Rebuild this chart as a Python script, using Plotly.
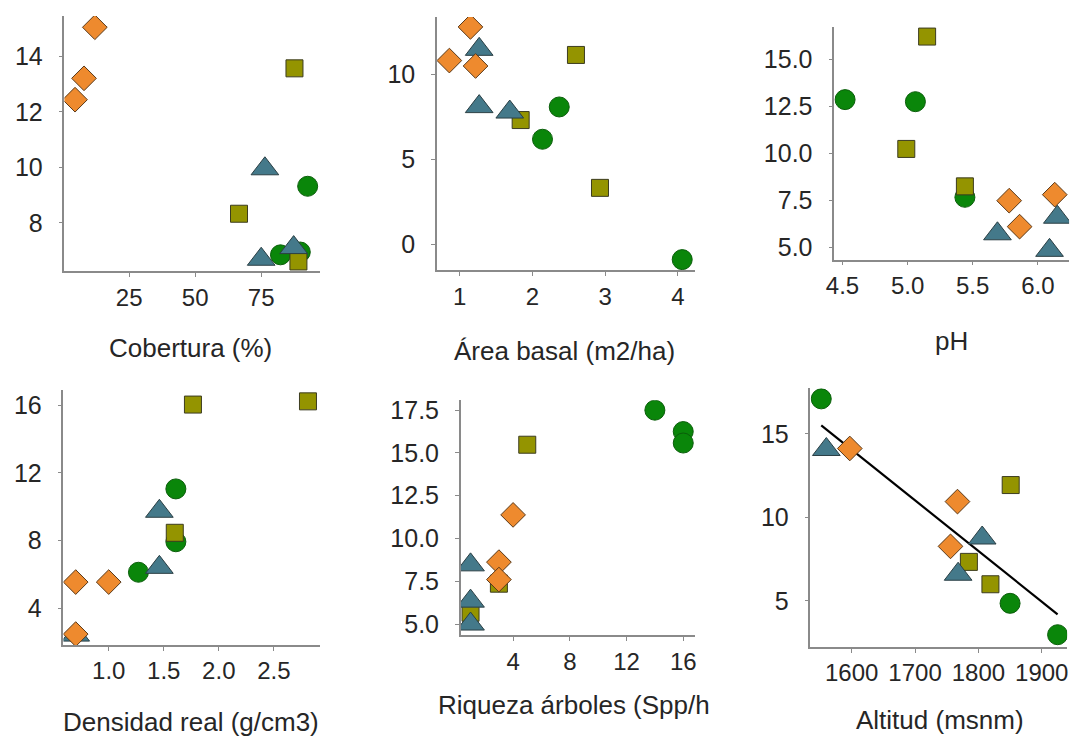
import numpy as np
import plotly.graph_objects as go

# ---------------- data ----------------
# group order: circle (green), square (olive), triangle (teal), diamond (orange)
# Panel 1: Cobertura (%)
p1_circle_x = [92.6, 82.3, 89.8];  p1_circle_y = [9.32, 6.85, 6.95]
p1_square_x = [87.6, 66.6, 89.1];  p1_square_y = [13.57, 8.33, 6.61]
p1_tri_x = [76.4, 75.0, 87.3];     p1_tri_y = [9.95, 6.69, 7.11]
p1_diam_x = [12.0, 7.9, 4.5];      p1_diam_y = [15.05, 13.21, 12.44]

# Panel 2: Área basal (m2/ha)
p2_circle_x = [2.37, 2.14, 4.06];  p2_circle_y = [8.07, 6.17, -0.91]
p2_square_x = [2.60, 1.84, 2.93];  p2_square_y = [11.13, 7.30, 3.31]
p2_tri_x = [1.27, 1.27, 1.69];     p2_tri_y = [11.46, 8.09, 7.77]
p2_diam_x = [1.15, 0.86, 1.22];    p2_diam_y = [12.78, 10.80, 10.48]

# Panel 3: pH
p3_circle_x = [4.52, 5.06, 5.44];  p3_circle_y = [12.85, 12.74, 7.66]
p3_square_x = [5.15, 4.99, 5.44];  p3_square_y = [16.20, 10.23, 8.24]
p3_tri_x = [5.69, 6.09, 6.15];     p3_tri_y = [5.72, 4.84, 6.60]
p3_diam_x = [5.78, 6.13, 5.86];    p3_diam_y = [7.48, 7.80, 6.10]

# Panel 4: Densidad real (g/cm3)
p4_circle_x = [1.61, 1.61, 1.27];  p4_circle_y = [11.06, 7.94, 6.14]
p4_square_x = [1.765, 2.81, 1.60]; p4_square_y = [16.04, 16.23, 8.47]
p4_tri_x = [1.46, 1.46, 0.70];     p4_tri_y = [9.74, 6.43, 2.43]
p4_diam_x = [0.70, 1.00, 0.70];    p4_diam_y = [5.56, 5.56, 2.49]

# Panel 5: Riqueza árboles (Spp/ha)
p5_circle_x = [14, 16, 16];        p5_circle_y = [17.50, 16.25, 15.58]
p5_square_x = [5, 3, 1];           p5_square_y = [15.48, 7.36, 5.66]
p5_tri_x = [1, 1, 1];              p5_tri_y = [8.46, 6.34, 5.00]
p5_diam_x = [4, 3, 3];             p5_diam_y = [11.38, 8.62, 7.60]

# Panel 6: Altitud (msnm)
p6_circle_x = [1552, 1850, 1925];  p6_circle_y = [17.10, 4.86, 2.98]
p6_square_x = [1851, 1785, 1819];  p6_square_y = [11.94, 7.34, 6.00]
p6_tri_x = [1560, 1768, 1806];     p6_tri_y = [14.07, 6.60, 8.77]
p6_diam_x = [1597, 1767, 1756];    p6_diam_y = [14.13, 10.95, 8.27]

axis_titles = ["Cobertura (%)", "Área basal (m2/ha)", "pH",
               "Densidad real (g/cm3)", "Riqueza árboles (Spp/h", "Altitud (msnm)"]

x_tickvals = [[25, 50, 75], [1, 2, 3, 4], [4.5, 5.0, 5.5, 6.0],
              [1.0, 1.5, 2.0, 2.5], [4, 8, 12, 16], [1600, 1700, 1800, 1900]]
x_ticktext = [["25", "50", "75"], ["1", "2", "3", "4"], ["4.5", "5.0", "5.5", "6.0"],
              ["1.0", "1.5", "2.0", "2.5"], ["4", "8", "12", "16"],
              ["1600", "1700", "1800", "1900"]]
y_tickvals = [[8, 10, 12, 14], [0, 5, 10], [5.0, 7.5, 10.0, 12.5, 15.0],
              [4, 8, 12, 16], [5.0, 7.5, 10.0, 12.5, 15.0, 17.5], [5, 10, 15]]
y_ticktext = [["8", "10", "12", "14"], ["0", "5", "10"],
              ["5.0", "7.5", "10.0", "12.5", "15.0"], ["4", "8", "12", "16"],
              ["5.0", "7.5", "10.0", "12.5", "15.0", "17.5"], ["5", "10", "15"]]

panels = [
    (p1_circle_x, p1_circle_y, p1_square_x, p1_square_y, p1_tri_x, p1_tri_y, p1_diam_x, p1_diam_y),
    (p2_circle_x, p2_circle_y, p2_square_x, p2_square_y, p2_tri_x, p2_tri_y, p2_diam_x, p2_diam_y),
    (p3_circle_x, p3_circle_y, p3_square_x, p3_square_y, p3_tri_x, p3_tri_y, p3_diam_x, p3_diam_y),
    (p4_circle_x, p4_circle_y, p4_square_x, p4_square_y, p4_tri_x, p4_tri_y, p4_diam_x, p4_diam_y),
    (p5_circle_x, p5_circle_y, p5_square_x, p5_square_y, p5_tri_x, p5_tri_y, p5_diam_x, p5_diam_y),
    (p6_circle_x, p6_circle_y, p6_square_x, p6_square_y, p6_tri_x, p6_tri_y, p6_diam_x, p6_diam_y),
]

# ---------------- layout / style ----------------
W, H = 1079, 745
# plot areas in pixels (left, right, top, bottom)
boxes = [(57, 315, 12, 270), (433, 693, 13, 269), (834, 1071, 23, 258),
         (56, 315, 390, 647), (457, 693, 400, 637), (810, 1069, 388, 649)]
x_ranges = [[0.5, 97.3], [0.69, 4.23], [4.437, 6.24], [0.589, 2.92], [0.31, 16.8], [1535, 1940]]
y_ranges = [[6.25, 15.46], [-1.55, 13.37], [4.35, 16.72], [1.85, 16.88], [4.36, 18.08], [2.25, 17.73]]
title_px = [(184.5, 347), (561.5, 350), (952, 340), (185, 725), (571.5, 708), (940.5, 723)]

FONT = "Liberation Sans, Arial, Helvetica, sans-serif"
TXT = "#262626"
AX = "#8a8a8a"

styles = [
    dict(symbol="circle", size=20, color="#0A860A", line=dict(color="#0B5E0B", width=1)),
    dict(symbol="square", size=17, color="#949400", line=dict(color="#3c3c20", width=1)),
    dict(symbol="triangle-up", size=24, color="#44798A", line=dict(color="#2b3f44", width=1)),
    dict(symbol="diamond", size=19, color="#EE8A2E", line=dict(color="#5a3a1a", width=1)),
]

fig = go.Figure()

# regression line in last panel (drawn beneath the points)
all_x6 = np.array(p6_circle_x + p6_square_x + p6_tri_x + p6_diam_x, dtype=float)
all_y6 = np.array(p6_circle_y + p6_square_y + p6_tri_y + p6_diam_y, dtype=float)
slope, intercept = np.polyfit(all_x6, all_y6, 1)
fx = np.array([all_x6.min(), all_x6.max()])
fig.add_trace(go.Scatter(x=fx, y=slope * fx + intercept, mode="lines",
                         line=dict(color="black", width=2.2),
                         xaxis="x6", yaxis="y6", showlegend=False, hoverinfo="skip"))

for i, pdata in enumerate(panels):
    xa = "x" if i == 0 else f"x{i+1}"
    ya = "y" if i == 0 else f"y{i+1}"
    for g in range(4):
        xs, ys = pdata[2 * g], pdata[2 * g + 1]
        st = styles[g]
        fig.add_trace(go.Scatter(
            x=xs, y=ys, mode="markers", xaxis=xa, yaxis=ya, showlegend=False,
            marker=dict(symbol=st["symbol"], size=st["size"], color=st["color"],
                        line=st["line"], opacity=1)))

layout = dict(width=W, height=H, margin=dict(l=0, r=0, t=0, b=0),
              paper_bgcolor="white", plot_bgcolor="white", showlegend=False,
              font=dict(family=FONT, color=TXT))
annotations = []
for i in range(6):
    l, r, t, b = boxes[i]
    xk = "xaxis" if i == 0 else f"xaxis{i+1}"
    yk = "yaxis" if i == 0 else f"yaxis{i+1}"
    xid = "x" if i == 0 else f"x{i+1}"
    yid = "y" if i == 0 else f"y{i+1}"
    layout[xk] = dict(domain=[l / W, r / W], range=x_ranges[i], anchor=yid,
                      showgrid=False, zeroline=False, showline=True, linecolor=AX, linewidth=1.5,
                      ticks="outside", ticklen=4, tickwidth=1, tickcolor=AX,
                      tickvals=x_tickvals[i], ticktext=x_ticktext[i],
                      tickfont=dict(size=24, color=TXT, family=FONT), ticklabelstandoff=0)
    layout[yk] = dict(domain=[1 - b / H, 1 - t / H], range=y_ranges[i], anchor=xid,
                      showgrid=False, zeroline=False, showline=True, linecolor=AX, linewidth=1.5,
                      ticks="outside", ticklen=4, tickwidth=1, tickcolor=AX,
                      tickvals=y_tickvals[i], ticktext=y_ticktext[i],
                      tickfont=dict(size=25, color=TXT, family=FONT), ticklabelstandoff=11)
    cx, cy = title_px[i]
    annotations.append(dict(text=axis_titles[i], xref="paper", yref="paper",
                            x=cx / W, y=1 - cy / H, xanchor="center", yanchor="middle",
                            showarrow=False, font=dict(size=26, color=TXT, family=FONT)))
layout["annotations"] = annotations
fig.update_layout(**layout)

fig.write_html("out.html", config={"displayModeBar": False},
               post_script="document.body.style.margin='0';document.body.style.overflow='hidden';")
